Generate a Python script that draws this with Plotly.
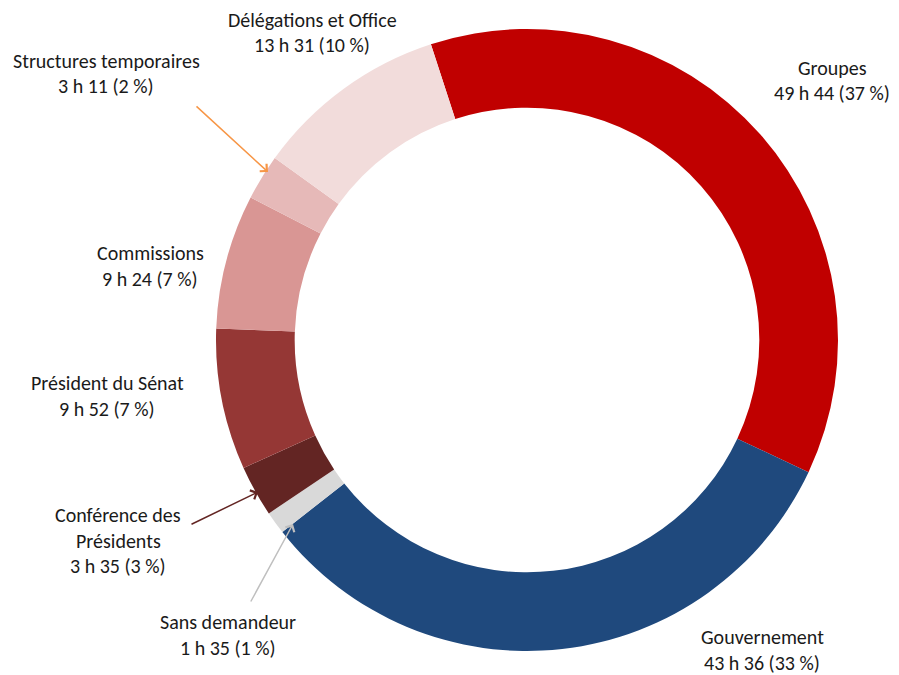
import plotly.graph_objects as go

categories = ["Groupes", "Gouvernement", "Sans demandeur", "Conférence des Présidents",
              "Président du Sénat", "Commissions", "Structures temporaires", "Délégations et Office"]
minutes = [49*60+44, 43*60+36, 1*60+35, 3*60+35, 9*60+52, 9*60+24, 3*60+11, 13*60+31]
durations = ["49 h 44", "43 h 36", "1 h 35", "3 h 35", "9 h 52", "9 h 24", "3 h 11", "13 h 31"]
percents = ["37 %", "33 %", "1 %", "3 %", "7 %", "7 %", "2 %", "10 %"]
label_lines = [
    ["Groupes"],
    ["Gouvernement"],
    ["Sans demandeur"],
    ["Conférence des", "Présidents"],
    ["Président du Sénat"],
    ["Commissions"],
    ["Structures temporaires"],
    ["Délégations et Office"],
]
colors = ["#C00000", "#1F497D", "#D9D9D9", "#632523", "#953735", "#D99694", "#E6B9B8", "#F2DCDB"]

W, H = 899, 675
# label block top-line centre positions (pixels)
label_pos = [(832, 68), (762, 637), (228, 622), (118, 515), (107, 383), (150, 253), (106, 61), (312, 20)]
LINE = 25.5

fig = go.Figure(go.Pie(
    labels=categories, values=minutes, sort=False, direction="clockwise",
    rotation=-18, hole=0.747, textinfo="none", hoverinfo="label+value",
    marker=dict(colors=colors, line=dict(width=0)),
    domain=dict(x=[216/W, 838/W], y=[1-651/H, 1-29/H]),
    showlegend=False,
))

font = dict(family="Calibri, Carlito, Lato, sans-serif", size=20, color="#1a1a1a")
ann = []
for lines, dur, pct, (px, py) in zip(label_lines, durations, percents, label_pos):
    all_lines = lines + [f"{dur} ({pct})"]
    for i, t in enumerate(all_lines):
        ann.append(dict(x=px/W, y=1-(py+i*LINE)/H, xref="paper", yref="paper",
                        text=t, showarrow=False, font=font, xanchor="center", yanchor="middle"))

arrows = [((195, 105), (268, 172), "#F79646"),
          ((190, 525), (258, 492), "#632523"),
          ((250, 603), (293, 524), "#BFBFBF")]
for (tx, ty), (hx, hy), c in arrows:
    ann.append(dict(x=hx/W, y=1-hy/H, xref="paper", yref="paper", ax=tx-hx, ay=ty-hy,
                    axref="pixel", ayref="pixel", text="", showarrow=True,
                    arrowhead=4, arrowsize=1.3, arrowwidth=1.5, arrowcolor=c))

fig.update_layout(width=W, height=H, margin=dict(l=0, r=0, t=0, b=0),
                  paper_bgcolor="white", plot_bgcolor="white", annotations=ann)
fig.write_html("out.html", config={"displayModeBar": False},
               post_script="document.body.style.margin='0';document.body.style.overflow='hidden';")
